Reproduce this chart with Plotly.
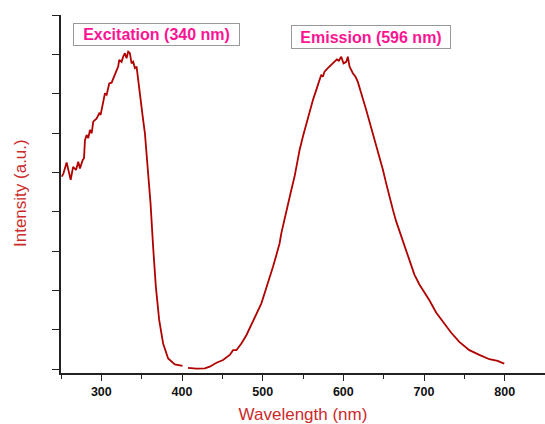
import plotly.graph_objects as go

# Excitation spectrum (monitored at 596 nm)
exc_wavelength = [251, 253, 257, 259, 262, 265, 268.6, 271.4, 273.5, 276.8, 278.5, 279.7,
                  281.8, 283.8, 285.9, 288, 290, 294.2, 297.4, 299.1, 301.6, 304.5, 306.6,
                  309.8, 312.7, 316.8, 320.9, 322.2, 325.1, 327.1, 329.2, 331.3, 333.3,
                  335.4, 337.5, 339.5, 341.6, 343.7, 345.7, 347.8, 351.1, 354, 358, 361,
                  364.2, 367.6, 371.7, 376.6, 382.8, 391.1, 400.6]
exc_intensity = [4.89, 4.97, 5.25, 5.06, 4.81, 5.14, 5.06, 5.27, 5.10, 5.31, 5.36, 5.82,
                 5.95, 5.87, 6.08, 5.99, 6.29, 6.37, 6.50, 6.46, 6.71, 7.01, 6.97,
                 7.26, 7.28, 7.48, 7.69, 7.86, 7.81, 7.94, 8.03, 7.90, 8.07,
                 8.03, 7.77, 7.81, 7.65, 7.69, 7.35, 6.88, 6.45, 6.00, 5.06, 4.21,
                 3.11, 2.09, 1.25, 0.65, 0.27, 0.12, 0.08]

# Emission spectrum (excited at 340 nm)
emi_wavelength = [407.5, 418, 428.2, 434.4, 442.7, 450.9, 459.2, 463.3, 467.4, 473.6, 479.8,
                  486, 492.2, 498.4, 503.7, 508.7, 512.8, 517, 521, 523.1, 527.2, 531.3,
                  535.5, 539.6, 541.7, 545.8, 549.9, 554.1, 558.2, 562.3, 566.4, 570.5,
                  572.6, 574.6, 576.7, 580.8, 585, 589.1, 592, 594.4, 597.4, 600.2, 603.6,
                  605.6, 607.7, 611.8, 615.1, 618, 620, 624.1, 628.3, 632.4, 636.5, 640.7,
                  644.8, 648.9, 653.1, 657.1, 661.3, 665.4, 669.6, 675.7, 681.9, 688.1,
                  694.3, 700.5, 706.7, 715, 725.2, 733.5, 743.8, 756.2, 768.6, 781,
                  791.2, 799.5]
emi_intensity = [0.03, 0.01, 0.02, 0.06, 0.16, 0.23, 0.36, 0.48, 0.48, 0.65, 0.86,
                 1.12, 1.37, 1.67, 2.01, 2.31, 2.60, 2.90, 3.20, 3.45, 3.79, 4.17,
                 4.55, 4.90, 5.14, 5.57, 5.91, 6.25, 6.54, 6.84, 7.09, 7.35,
                 7.48, 7.43, 7.56, 7.65, 7.73, 7.81, 7.87, 7.84, 7.94, 7.77, 7.81,
                 7.94, 7.69, 7.52, 7.43, 7.30, 7.18, 6.88, 6.59, 6.29, 5.99, 5.74,
                 5.40, 5.08, 4.72, 4.38, 4.06, 3.76, 3.50, 3.11, 2.76, 2.40,
                 2.15, 1.95, 1.75, 1.44, 1.16, 0.93, 0.69, 0.48, 0.36, 0.25,
                 0.21, 0.14]

x_ticks = [300, 400, 500, 600, 700, 800]
x_tick_labels = ["300", "400", "500", "600", "700", "800"]
y_ticks = [0, 1, 2, 3, 4, 5, 6, 7, 8, 9]

LINE = "#b00000"
TITLE_RED = "#cc2a2a"
PINK = "#ff1493"

fig = go.Figure()
fig.add_trace(go.Scatter(x=exc_wavelength, y=exc_intensity, mode="lines",
                         line=dict(color=LINE, width=1.8), showlegend=False))
fig.add_trace(go.Scatter(x=emi_wavelength, y=emi_intensity, mode="lines",
                         line=dict(color=LINE, width=1.8), showlegend=False))

fig.update_layout(
    width=545, height=424,
    margin=dict(l=61, r=0, t=15, b=51),
    paper_bgcolor="white", plot_bgcolor="white",
    font=dict(family="Liberation Sans, Arial, sans-serif"),
    xaxis=dict(
        range=[250, 850], showgrid=False, zeroline=False, automargin=False,
        showline=True, linecolor="#222", linewidth=1.5,
        tickmode="array", tickvals=x_ticks, ticktext=x_tick_labels,
        ticks="outside", ticklen=6, tickwidth=1.3, tickcolor="#222",
        minor=dict(ticks="outside", ticklen=4, tickwidth=1.3, tickcolor="#222",
                   tickmode="linear", tick0=250, dtick=50),
        tickfont=dict(size=12.5, color="#111", family="Liberation Sans, Arial, sans-serif", weight="bold"),
        title=dict(text="Wavelength (nm)", font=dict(size=17, color=TITLE_RED), standoff=17),
    ),
    yaxis=dict(
        range=[-0.1, 9.0], showgrid=False, zeroline=False, automargin=False,
        showline=True, linecolor="#222", linewidth=1.5,
        tickmode="array", tickvals=y_ticks, showticklabels=False,
        ticks="outside", ticklen=7, tickwidth=1.3, tickcolor="#222",
    ),
    annotations=[
        dict(text="Intensity (a.u.)", xref="paper", yref="paper",
             x=(20 - 61) / 484, y=(373 - 193) / 358, textangle=-90,
             showarrow=False, font=dict(size=17, color=TITLE_RED),
             xanchor="center", yanchor="middle"),
        dict(text="<b>Excitation (340 nm)</b>", xref="paper", yref="paper",
             x=(156.7 - 61) / 484, y=(373 - 34.2) / 358,
             showarrow=False, font=dict(size=16, color=PINK),
             bordercolor="#999", borderwidth=1, borderpad=1,
             width=163, height=19, xanchor="center", yanchor="middle"),
        dict(text="<b>Emission (596 nm)</b>", xref="paper", yref="paper",
             x=(371.3 - 61) / 484, y=(373 - 36.9) / 358,
             showarrow=False, font=dict(size=16, color=PINK),
             bordercolor="#999", borderwidth=1, borderpad=1,
             width=156, height=20, xanchor="center", yanchor="middle"),
    ],
)

fig.write_html("out.html", config={"displayModeBar": False},
               post_script="document.body.style.margin='0';document.body.style.padding='0';")
